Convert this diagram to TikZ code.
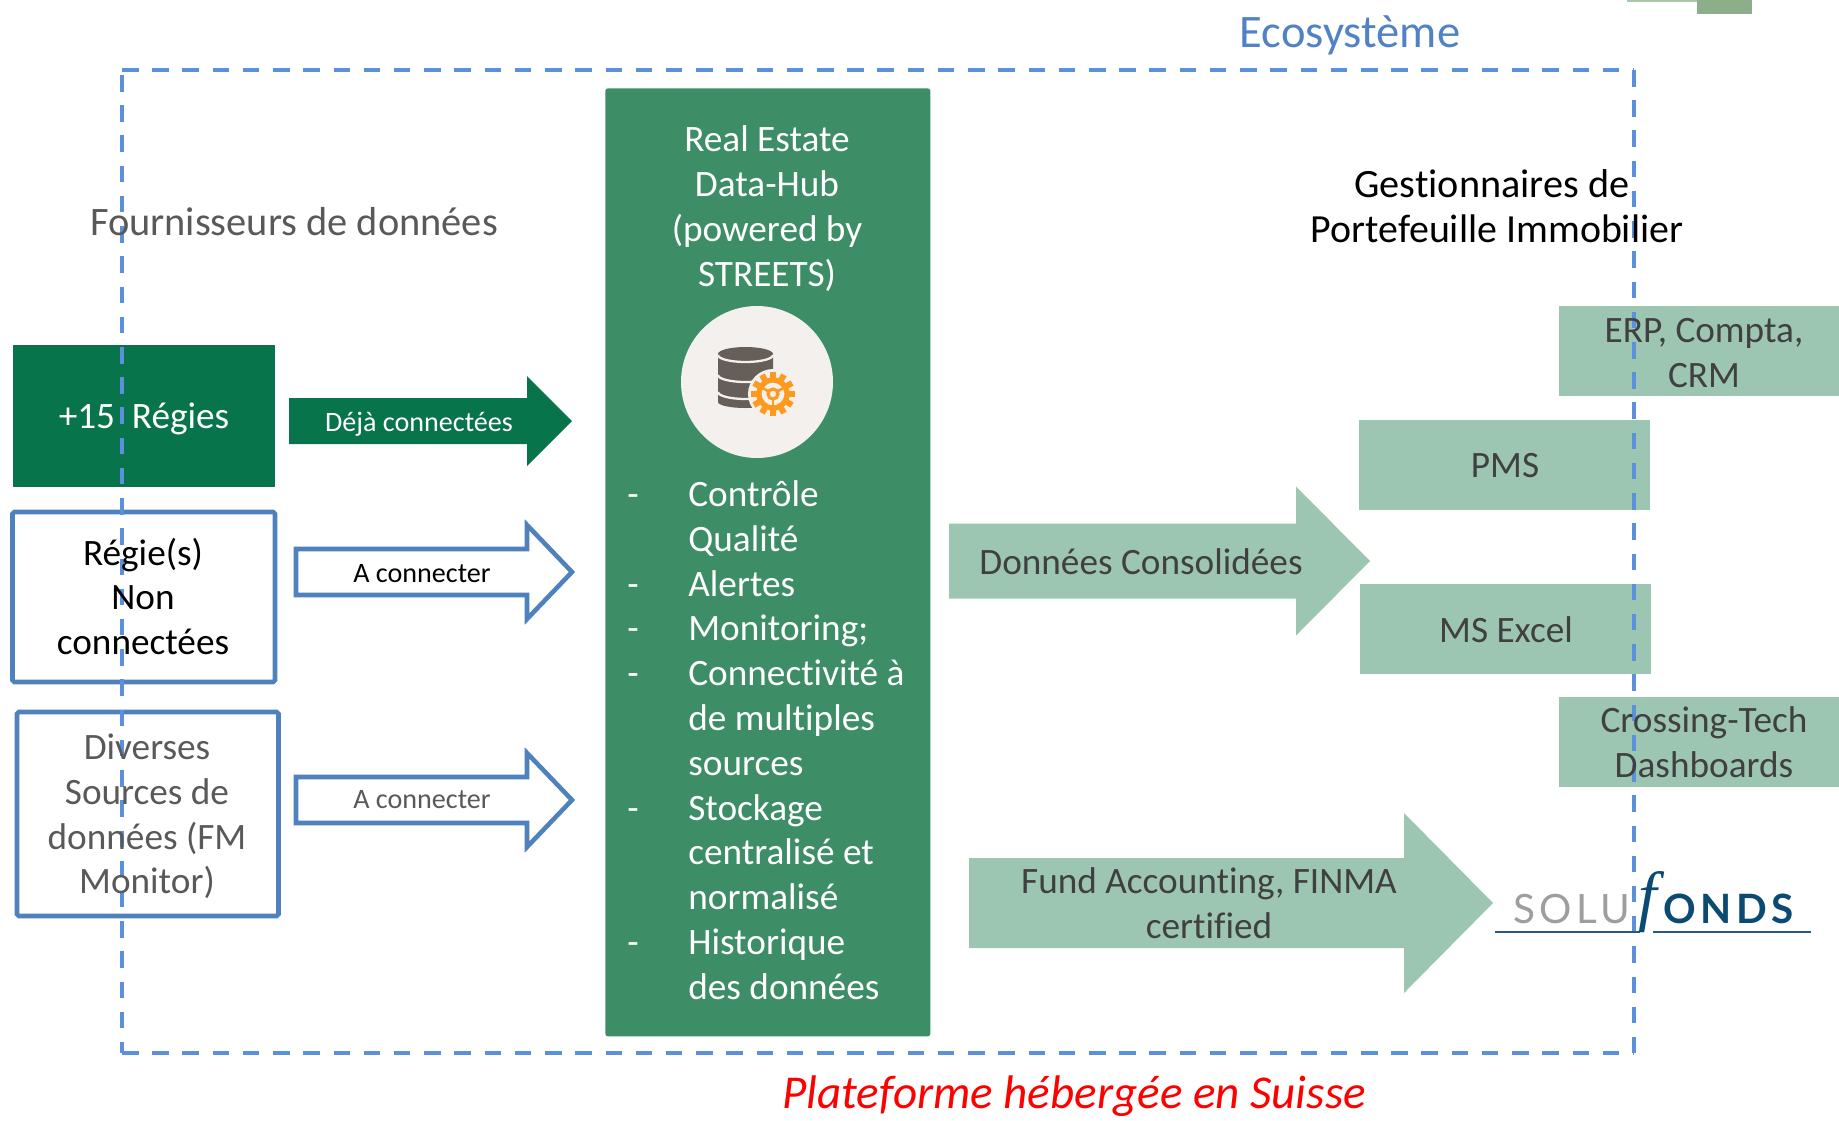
\documentclass[tikz,border=0pt]{standalone}
\usepackage{fontspec}
\setmainfont[Ligatures=NoCommon]{Carlito}
\newfontfamily\logofont{Lato}
\newfontfamily\logoserif{Liberation Serif}
\usetikzlibrary{calc}

\definecolor{darkgreen}{HTML}{07744C}
\definecolor{hubgreen}{HTML}{3D8D67}
\definecolor{lightgreen}{HTML}{9DC6B2}
\definecolor{boxblue}{HTML}{4F81BD}
\definecolor{dashblue}{HTML}{5A90DC}
\definecolor{greytext}{HTML}{595959}
\definecolor{darktext}{HTML}{404040}
\definecolor{logoblue}{HTML}{0B4A72}
\definecolor{discgrey}{HTML}{F3F0EE}
\definecolor{dbgrey}{HTML}{665E58}
\definecolor{gearorange}{HTML}{FF9A1F}
\definecolor{scrapa}{HTML}{A9C8A9}
\definecolor{scrapb}{HTML}{8DAE8B}

\begin{document}
\begin{tikzpicture}[x=0.02cm,y=-0.02cm,
     txt/.style={font=\fontsize{21.2}{25.5}\selectfont,align=center,inner sep=0},
     small/.style={font=\fontsize{16}{18}\selectfont,inner sep=0},
     side/.style={draw=none,fill=lightgreen,inner sep=0,anchor=north west},
     outlinebox/.style={draw=boxblue,line width=2.6pt,rounded corners=1pt,inner sep=0,outer sep=0,anchor=north west},
     logotxt/.style={inner sep=0,anchor=base west}
     ]
\useasboundingbox (0,0) rectangle (1839,1120);

%Arrow geometry: left, neck, tip, middle, half shaft, half head
\def\blockarrow#1#2#3#4#5#6#7{
\path[#1] (#2,#5-#6) -- (#3,#5-#6) -- (#3,#5-#7) -- (#4,#5) -- (#3,#5+#7) -- (#3,#5+#6) -- (#2,#5+#6) -- cycle;
}

%Scraps at the top edge
\fill[scrapa] (1627,0) rectangle (1723,1.5);
\fill[scrapb] (1697,0) rectangle (1752,14);

%Boxes on the left
\node[fill=darkgreen,inner sep=0,anchor=north west,minimum width=262*0.02cm,minimum height=142*0.02cm] (regies) at (13,345) {};
\node[outlinebox,minimum width=262.5*0.02cm,minimum height=170*0.02cm] (nonconn) at (12.5,512) {};
\node[outlinebox,minimum width=261.5*0.02cm,minimum height=204*0.02cm] (sources) at (17,712) {};

%Boxes on the right
\node[side,minimum width=280*0.02cm,minimum height=90*0.02cm] (erp) at (1559,306) {};
\node[side,minimum width=291*0.02cm,minimum height=90*0.02cm] (pms) at (1359,420) {};
\node[side,minimum width=291*0.02cm,minimum height=90*0.02cm] (excel) at (1360,584) {};
\node[side,minimum width=280*0.02cm,minimum height=90*0.02cm] (crossing) at (1559,697) {};

%Arrows
\blockarrow{fill=darkgreen}{289}{527}{572}{421}{23}{45}
\blockarrow{draw=boxblue,line width=2.6pt,fill=white}{296}{527}{572}{572}{23}{47}
\blockarrow{draw=boxblue,line width=2.6pt,fill=white}{296}{527}{572}{800}{23}{47}
\blockarrow{fill=lightgreen}{949}{1296}{1370}{561}{37.5}{74.5}
\blockarrow{fill=lightgreen}{969}{1404}{1493}{903}{45}{90}

%Ecosystem frame
\draw[dashblue,line width=2.3pt,dash pattern=on 9.4pt off 7.8pt] (122,70) -- (1634,70) (1634,70) -- (1634,1053) (122,75) -- (122,1053) (122,1053) -- (1634,1053);

%Hub
\node[fill=hubgreen,rounded corners=1.5pt,inner sep=0,anchor=north west,minimum width=325*0.02cm,minimum height=948*0.02cm] (hub) at (605,88) {};
\node[circle,fill=discgrey,inner sep=0,minimum size=152*0.02cm] (disc) at (757,382) {};

%Database and gear
\fill[dbgrey] (718,354) -- (718,402) arc (180:0:27.5 and 6) -- (773,354) arc (0:-180:27.5 and 7) -- cycle;
\foreach \y in {355,375,392}
   {
\draw[discgrey,line width=1.3pt] (718,\y) arc (180:0:27.5 and 7);
   }
\node[circle,fill=discgrey,inner sep=0,minimum size=50*0.02cm] (gearback) at (773,394) {};
\foreach \a in {0,30,...,330}
   {
\fill[gearorange,rotate around={\a:(773,394)}] (770,372) rectangle (776,382);
   }
\draw[gearorange,line width=3pt] (773,394) circle (14);
\draw[gearorange,line width=1.8pt] (773,394) circle (5);
\foreach \a in {30,150,270}
   {
\draw[gearorange,line width=1.5pt,rotate around={\a:(773,394)}] (778,394) -- (787,394);
   }

%Logo
\coordinate (lineA) at (1495,932);
\coordinate (lineB) at (1640,932);
\coordinate (lineC) at (1653,932);
\coordinate (lineD) at (1811,932);
\draw[logoblue!90!white,line width=1.3pt] (lineA) -- (lineB);
\draw[logoblue!90!white,line width=1.3pt] (lineC) -- (lineD);
\node[logotxt,text=black!38,font=\logofont\fontsize{23}{23}\selectfont\addfontfeature{LetterSpace=11}] (solu) at (1513,923) {SOLU};
\node[logotxt,text=logoblue,font=\logoserif\itshape\fontsize{38}{38}\selectfont] (bigf) at (1638,918) {f};
\node[logotxt,text=logoblue,font=\logofont\bfseries\fontsize{23}{23}\selectfont\addfontfeature{LetterSpace=11}] (onds) at (1663,923) {ONDS};

%Titles
\node[txt,text=dashblue!90!black,font=\fontsize{26.5}{30}\selectfont] (eco) at (1350,35) {Ecosystème};
\node[txt,text=greytext,font=\fontsize{23}{28}\selectfont] (fourn) at (294,222) {Fournisseurs de données};
\node[txt,text=black,font=\fontsize{22.9}{25.5}\selectfont] (gestA) at (1492,184) {Gestionnaires de};
\node[txt,text=black,font=\fontsize{22.7}{25.5}\selectfont] (gestB) at (1497,229) {Portefeuille Immobilier};
\node[txt,text=red,font=\itshape\fontsize{26.8}{30}\selectfont] (suisse) at (1074,1096) {Plateforme hébergée en Suisse};

%Labels on the left
\node[txt,text=white] (regiestxt) at (144,419) {+15 \ Régies};
\node[txt,text=black] (nonconntxt) at (143,596.5) {Régie(s)\\Non\\connectées};
\node[txt,text=greytext] (sourcestxt) at (147,816.5) {Diverses\\Sources de\\données (FM\\Monitor)};
\node[small,text=white] (deja) at (419,424) {Déjà connectées};
\node[small,text=black] (aconnA) at (422,574) {A connecter};
\node[small,text=greytext] (aconnB) at (422,800) {A connecter};

%Labels in the hub
\node[txt,text=white] (hubtitle) at (767,208.5) {Real Estate\\Data-Hub\\(powered by\\STREETS)};
\foreach [count=\i] \k in {Contrôle,Qualité,Alertes,Monitoring;,Connectivité à,de multiples,sources,Stockage,centralisé et,normalisé,Historique,des données}
   {
\pgfmathsetmacro{\yy}{506.5+(\i-1)*44.8}
\node[txt,text=white,anchor=base west] (item\i) at (688,\yy) {\k};
   }
\foreach \i in {1,3,4,5,8,11}
   {
\node[txt,text=white,anchor=base] (dash\i) at (633,{506.5+(\i-1)*44.8}) {-};
   }

%Labels on the right
\node[txt,text=darktext] (erptxt) at (1704,353) {ERP, Compta,\\CRM};
\node[txt,text=darktext] (pmstxt) at (1505,466) {PMS};
\node[txt,text=darktext] (exceltxt) at (1506,630) {MS Excel};
\node[txt,text=darktext] (crossingtxt) at (1704,742) {Crossing-Tech\\Dashboards};
\node[txt,text=darktext] (conso) at (1141,562) {Données Consolidées};
\node[txt,text=darktext] (fund) at (1209,903.5) {Fund Accounting, FINMA\\certified};
\end{tikzpicture}
\end{document}
